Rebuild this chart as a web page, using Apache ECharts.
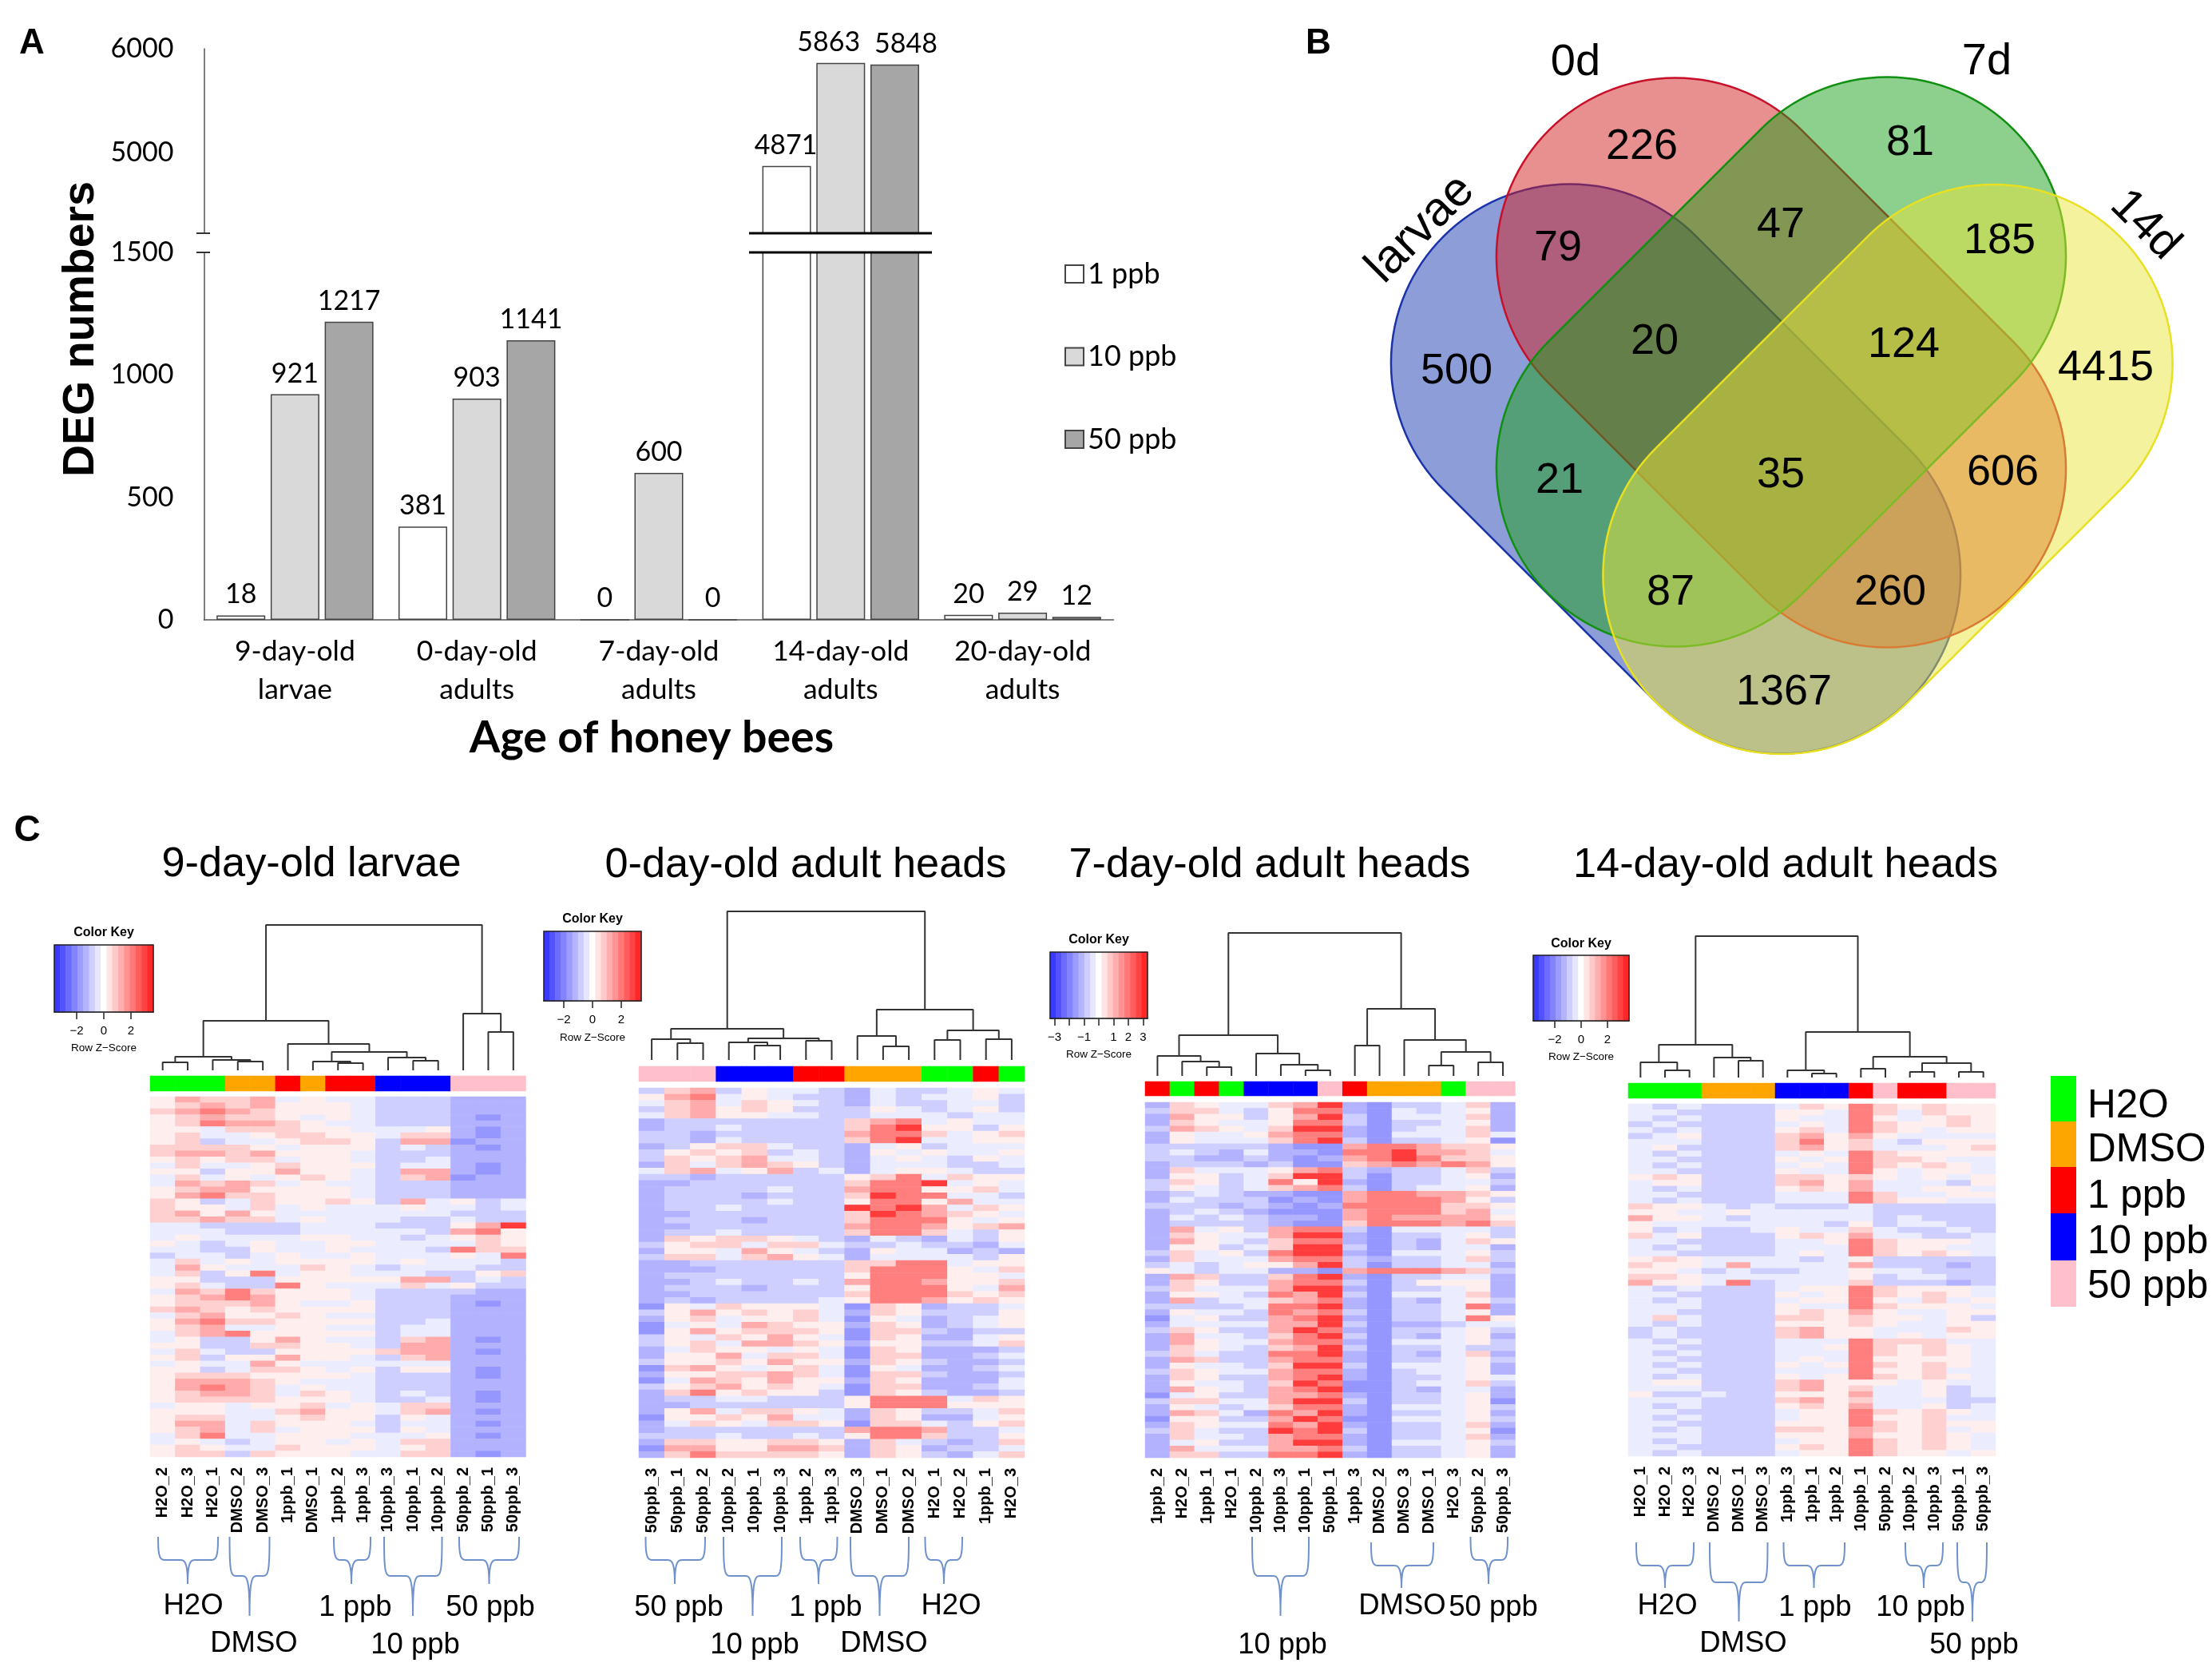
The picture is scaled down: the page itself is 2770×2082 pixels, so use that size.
<!DOCTYPE html>
<html><head><meta charset="utf-8">
<style>html,body{margin:0;padding:0;background:#fff}#c{width:2770px;height:2082px}</style>
<script src="https://cdn.jsdelivr.net/npm/echarts@6/dist/echarts.min.js"></script>
</head><body><div id="c"></div>
<script>
// ---------- Panel A data ----------
const ageCategories = ['9-day-old\nlarvae','0-day-old\nadults','7-day-old\nadults','14-day-old\nadults','20-day-old\nadults'];
const deg1ppb  = [18,381,0,4871,20];
const deg10ppb = [921,903,600,5863,29];
const deg50ppb = [1217,1141,0,5848,12];
// ---------- Panel B data ----------
const vennSets = ['larvae','0d','7d','14d'];
const vennCounts = [226,81,47,185,79,20,124,500,4415,21,35,606,87,260,1367];
// ---------- Panel C data ----------
const panelTitles = ['9-day-old larvae','0-day-old adult heads','7-day-old adult heads','14-day-old adult heads'];
const groupNames = ['H2O','DMSO','1 ppb','10 ppb','50 ppb'];
const groupColors = ['#00ff00','#ffa500','#ff0000','#0000ff','#ffc0cb'];
const samples0 = ['H2O_2','H2O_3','H2O_1','DMSO_2','DMSO_3','1ppb_1','DMSO_1','1ppb_2','1ppb_3','10ppb_3','10ppb_1','10ppb_2','50ppb_2','50ppb_1','50ppb_3'];
const samples1 = ['50ppb_3','50ppb_1','50ppb_2','10ppb_2','10ppb_1','10ppb_3','1ppb_2','1ppb_3','DMSO_3','DMSO_1','DMSO_2','H2O_1','H2O_2','1ppb_1','H2O_3'];
const samples2 = ['1ppb_2','H2O_2','1ppb_1','H2O_1','10ppb_2','10ppb_3','10ppb_1','50ppb_1','1ppb_3','DMSO_2','DMSO_3','DMSO_1','H2O_3','50ppb_2','50ppb_3'];
const samples3 = ['H2O_1','H2O_2','H2O_3','DMSO_2','DMSO_1','DMSO_3','1ppb_3','1ppb_1','1ppb_2','10ppb_1','50ppb_2','10ppb_2','10ppb_3','50ppb_1','50ppb_3'];
const annot0 = [0,0,0,1,1,2,1,2,2,3,3,3,4,4,4];
const annot1 = [4,4,4,3,3,3,2,2,1,1,1,0,0,2,0];
const annot2 = [2,0,2,0,3,3,3,4,2,1,1,1,0,4,4];
const annot3 = [0,0,0,1,1,1,3,3,3,2,4,2,2,4,4];
// colour-key steps (row z-score) and tick sets
const keySteps = [-3.2,-2.8,-2.4,-2,-1.6,-1.2,-0.8,-0.4,0,0.4,0.8,1.2,1.6,2,2.4,2.8,3.2];
const keyTicks0 = [-2,0,2];
const keyTicks2 = [-3,-2,-1,0,1,2,3];
const keyLabels2 = [-3,-1,1,2,3];
// dendrogram merges: [a, b, height]; a/b < 15 are leaves, otherwise earlier merges (15 + k)
const dendro0 = [[0,1,10],[3,4,11],[2,16,13],[15,17,17],[7,8,9],[6,19,11],[10,11,12],[9,21,16],[20,22,23],[5,23,33],[18,24,62],[13,14,48],[12,26,71],[25,27,182]];
const dendro1 = [[1,2,21],[0,15,26],[4,5,18],[3,17,22],[6,7,24],[18,19,27],[16,20,39],[9,10,17],[8,22,30],[11,12,25],[13,14,26],[24,25,37],[23,26,63],[21,27,186]];
const dendro2 = [[2,3,11],[1,15,18],[0,16,25],[6,7,7],[5,18,14],[4,19,28],[17,20,51],[8,9,38],[11,12,13],[13,14,17],[23,24,30],[10,25,45],[22,26,84],[21,27,179]];
const dendro3 = [[1,2,9],[0,15,19],[4,5,21],[3,17,25],[16,18,41],[7,8,5],[6,20,9],[9,10,11],[11,12,7],[13,14,7],[23,24,18],[22,25,26],[21,26,57],[19,27,177]];
// heat rows: one digit per sample, index into zLevels
const zLevels = [-2.5,-1.7,-1.25,-0.8,-0.3,0.25,0.7,1.25,1.9,2.9];
const heat0 = ["57667 45443 33222","56767 55543 33222","67876 55543 33222","56766 54543 33212","56877 65443 33222","55466 65544 45212","56445 66554 66212","56344 56653 77122","66665 45553 43212","67767 55543 33222","56566 45543 34222","46445 65553 44212","55355 75543 77212","46454 56543 67122","47676 45443 33222","56775 55543 33222","57866 55543 33222","65346 55653 74534","65546 45444 54434","67575 44444 44333","66766 45444 33433","44333 34443 33579","44433 34444 43785","45444 45544 34565","54345 44554 44465","44335 44544 43866","34434 54454 44548","46454 55554 54443","47544 46543 44433","46358 45544 43356","55333 55555 77343","56433 85444 64533","47686 55543 33322","56787 55543 33222","56667 54453 33212","67656 55553 33222","46755 65443 33222","57866 55553 34222","56744 55443 44222","46785 55553 44222","45335 75443 67212","55336 65543 77222","46433 55556 77212","56355 75543 67222","45447 54444 44222","55346 65453 55212","56665 55543 33212","57776 54443 33222","57876 45443 33222","56776 46543 43212","56666 55543 34212","45545 56454 66222","55544 67554 67212","56644 56553 54222","57746 55543 44212","56746 45553 54222","46844 55544 45212","45434 55454 66222","56544 65554 56222","56636 55544 66212"];
const heat1 = ["36735 44324 33454","57845 43324 34453","46746 54324 33443","36756 53335 43453","46755 44334 44344","23333 33367 84544","23343 33368 95535","33233 33378 86456","33243 33368 94455","23566 43324 53444","35656 34325 45445","36567 44324 54354","26467 65324 44334","46745 73424 55433","33233 33356 84655","22333 33368 89454","23333 43378 85564","23332 33369 88443","23333 43358 85744","23343 33398 97465","22333 33369 87654","23332 33368 88545","22333 33378 87567","23343 33368 86435","26566 54324 32435","35664 66433 43324","25547 54325 44232","36646 75424 44435","22333 33366 88455","22233 33368 88546","23333 33358 88554","22343 34378 87556","23332 33358 88547","22333 33368 88656","23233 33458 87565","15465 55416 52334","35756 56426 53335","25645 56415 42345","14547 65526 52345","15756 66516 63233","35465 75416 52245","35647 76525 53346","24655 45416 52223","25574 66416 62234","35565 75526 53223","16754 56415 42234","25566 76416 63223","14765 75526 52224","35675 65416 62234","26856 55316 53223","23344 33358 88465","22333 33358 88555","25746 65426 53346","15565 74426 52245","24654 66516 64356","23333 33378 87334","33343 34358 86335","26655 66526 43236","17755 77626 52334","26866 66526 53246"];
const heat2 = ["26544 67921 33462","36643 58821 43452","27553 57931 44462","26544 58831 33452","37654 69921 34462","25445 78821 44464","25444 68931 33451","33333 21178 87665","34324 22188 97764","33223 21278 98665","23332 31167 87875","26444 57832 33463","25534 69931 33452","36534 85921 33443","35434 67831 34452","23432 21178 87765","24333 12178 88753","33323 21288 88665","23432 11178 88674","24343 22178 77775","23333 21168 88786","27453 78831 44443","26544 79921 33453","27543 68821 32465","25534 69931 32442","36453 89921 44453","26444 78832 33463","34345 57931 33442","54344 22178 88763","27633 68921 33442","26533 78831 35552","36444 79921 33452","25543 87931 44462","27344 67821 32453","33334 88921 33482","25443 87831 33452","14533 78921 33485","24444 77931 22344","36533 79821 33453","27443 68931 32452","27544 78821 44453","26543 67931 33433","36433 88921 32462","27633 78821 33453","25443 69931 44452","36544 78821 34452","26533 78921 33454","25443 69811 34463","27543 78911 32442","14533 77821 33452","36644 79931 33451","25434 68821 44453","27642 87921 33452","15533 79811 44453","26544 87921 33462","36433 98931 33451","26443 78821 33462","24533 79921 44453","27444 77831 33452","26633 88921 33452"];
const heat3 = ["43433 34658 65655","44333 35548 64655","43433 35448 54565","34333 34548 65565","43433 35648 65455","34533 36757 54444","44433 36856 43555","45333 36756 44456","43433 34548 65555","44333 35458 66544","43433 34548 65654","44333 35448 54554","56533 36656 54545","45533 36757 44435","43433 35657 44554","44333 34448 64455","43433 34448 65544","65543 43334 33333","55445 44444 33333","75543 44444 34333","54444 44435 34433","53433 45446 43343","64533 35657 44334","44333 34458 65554","43433 34448 65544","44333 34548 65654","56544 44345 33333","65547 44447 33323","55434 33445 44333","66544 44445 34433","75548 34446 33323","43433 34558 65554","44333 35458 65654","43433 34558 54645","44433 35448 65554","44333 35657 54455","46433 36656 55453","43433 35556 54455","34333 36755 44465","34333 36755 45455","43433 34448 66644","44333 34458 65654","43433 34448 65654","44333 34548 55554","43433 35458 65654","44333 34448 55644","43433 35458 65654","45533 36755 54544","44433 36756 44534","53343 35557 44534","44433 36756 44433","43433 35657 44534","44333 34558 65654","43433 34558 55644","44333 35558 65655","43433 36657 65645","44433 35557 55654","43433 34558 65654","44333 35658 65654","43433 34558 65545"];

// ---------- layout (pixels) ----------
const SANS = '"Liberation Sans"', LATO = 'Lato';
const grid=[], xAxis=[], yAxis=[], series=[], gfx=[];
const invisible = {show:false};
function text(t,x,y,size,opt){ opt=opt||{};
  const dy = size>=30 ? 3 : 0;
  gfx.push({type:'text',x:x,y:y+dy,rotation:opt.rot||0,z:20,style:{text:t,fontSize:size,fontFamily:opt.font||SANS,fontWeight:opt.weight||'normal',fill:opt.fill||'#000',align:opt.align||'center',verticalAlign:'middle'}});
}
function hline(x1,x2,y,w,c){ gfx.push({type:'line',z:20,shape:{x1:x1,y1:y,x2:x2,y2:y},style:{stroke:c,lineWidth:w}}); }

// Panel A
const gLow = grid.length;
grid.push({left:255.5,width:1139,top:316,height:460});
xAxis.push({gridIndex:gLow,type:'category',data:ageCategories,axisTick:{show:false},
    axisLine:{lineStyle:{color:'#555',width:1.5}},
    axisLabel:{color:'#000',fontFamily:LATO,fontSize:35.5,lineHeight:48,margin:16,interval:0}});
yAxis.push({gridIndex:gLow,type:'value',min:0,max:1500,interval:500,splitLine:invisible,axisTick:invisible,
    axisLine:{show:true,lineStyle:{color:'#555',width:1.5}},
    axisLabel:{color:'#000',fontFamily:LATO,fontSize:34,margin:38,formatter:function(v){return String(v);}}});
const gUp = grid.length;
grid.push({left:255.5,width:1139,top:61,height:231});
xAxis.push({gridIndex:gUp,type:'category',data:ageCategories,show:false});
yAxis.push({gridIndex:gUp,type:'value',min:4223,max:6000,splitLine:invisible,axisTick:invisible,
    axisLine:{show:true,lineStyle:{color:'#555',width:1.5}},
    axisLabel:{color:'#000',fontFamily:LATO,fontSize:34,margin:38,customValues:[5000,6000],formatter:function(v){return String(v);}}});
[['1 ppb',deg1ppb,'#ffffff',-1],['10 ppb',deg10ppb,'#d9d9d9',-15],['50 ppb',deg50ppb,'#a6a6a6',14]].forEach(function(s){
  const base={name:s[0],type:'bar',barWidth:61,barGap:'11%',animation:false,clip:true,
    itemStyle:{color:s[2],borderColor:'#444',borderWidth:1.5}};
  const lab={show:true,position:'top',distance:9,color:'#000',fontFamily:LATO,fontSize:34};
  series.push(Object.assign({},base,{xAxisIndex:gLow,yAxisIndex:gLow,data:s[1],
    label:Object.assign({},lab,{formatter:function(p){return p.value>1500?'':String(p.value);}})}));
  series.push(Object.assign({},base,{xAxisIndex:gUp,yAxisIndex:gUp,
    data:s[1].map(function(v){return v>1500?{value:v,label:{offset:[s[3],0]}}:null;}),label:lab}));
});
hline(938,1167,292,3,'#000'); hline(938,1167,316,3,'#000');
hline(246,263,292,2,'#333'); hline(246,263,316,2,'#333');
text('A',40,52,44,{weight:'bold'});
text('DEG numbers',102,409,55.5,{weight:'bold',rot:Math.PI/2});
text('Age of honey bees',816,921,55.5,{weight:'bold',font:LATO});

// Panel B
text('B',1651,52,44,{weight:'bold'});
const vennShapes=[
 {cx:2098.5,cy:587,rot:-Math.PI/4,fill:'rgba(26,60,176,0.5)',stroke:'#1a33a8'},
 {cx:2230.5,cy:454,rot:-Math.PI/4,fill:'rgba(209,31,31,0.5)',stroke:'#c8102a'},
 {cx:2230.5,cy:453,rot:Math.PI/4,fill:'rgba(28,160,26,0.5)',stroke:'#109010'},
 {cx:2364,cy:587.5,rot:Math.PI/4,fill:'rgba(234,229,58,0.5)',stroke:'#e8e020'}];
vennShapes.forEach(function(v){
  gfx.push({type:'rect',x:v.cx,y:v.cy,rotation:v.rot,z:5,shape:{x:-411.5,y:-224,width:823,height:448,r:224},
    style:{fill:v.fill,stroke:v.stroke,lineWidth:2.5}});
});
const vennPos=[[2056,181],[2392,176],[2230,279],[2504,299],[1951,308],[2072,425],[2384,429],[1824,462],[2637,458],[1953,599],[2230,592],[2508,589],[2092,739],[2367,739],[2234,864]];
vennCounts.forEach(function(c,i){ text(String(c),vennPos[i][0],vennPos[i][1],54); });
text(vennSets[1],1973,76,56); text(vennSets[2],2488,75,56);
text(vennSets[0],1779,284,60,{rot:Math.PI/4});
text(vennSets[3],2686,279,58,{rot:-Math.PI/4});

// Panel C
text('C',34,1037,46,{weight:'bold'});
const panels=[
 {samples:samples0,annot:annot0,heat:heat0,dendro:dendro0,ticks:keyTicks0,labs:keyTicks0,range:3.65,
  title:[390,1080],heatL:188,heatR:658.5,heatT:1373,heatB:1824,annT:1347,annB:1366,leaf:1340,top:1158,
  key:[68,192,1183,1267],keyTitle:1168,keyName:1312,
  brackets:[[198,273,1924,1953,1983,235],[287.5,337.5,1924,1973,2023,312.5],[418,464,1924,1953,1983,440],[481,553.5,1924,1973,2023,517],[575,650,1924,1953,1983,612.5]],
  names:[[0,242,2008],[1,318,2055],[2,445,2010],[3,520,2057],[4,614,2010]]},
 {samples:samples1,annot:annot1,heat:heat1,dendro:dendro1,ticks:keyTicks0,labs:keyTicks0,range:3.4,
  title:[1009,1081],heatL:800,heatR:1283,heatT:1362,heatB:1825,annT:1335,annB:1354,leaf:1327,top:1141,
  key:[681,803,1166,1253],keyTitle:1151,keyName:1299,
  brackets:[[808.5,883,1924,1953,1983,845],[906,979,1924,1973,2023,942.5],[1002,1048.5,1924,1953,1983,1025],[1065,1138,1924,1973,2023,1101.5],[1158.5,1205,1924,1953,1983,1182]],
  names:[[4,850,2010],[3,945,2057],[2,1034,2010],[1,1107,2055],[0,1191,2008]]},
 {samples:samples2,annot:annot2,heat:heat2,dendro:dendro2,ticks:keyTicks2,labs:keyLabels2,range:3.3,
  title:[1590,1081],heatL:1434,heatR:1897.5,heatT:1380,heatB:1825,annT:1354,annB:1372,leaf:1347,top:1168,
  key:[1315,1437,1192,1275],keyTitle:1177,keyName:1320,
  brackets:[[1568,1639,1924,1973,2023,1603.5],[1717,1795,1931,1960,1988,1755],[1841.5,1888,1924,1953,1983,1864]],
  names:[[3,1606,2057],[1,1756,2008],[4,1870,2010]]},
 {samples:samples3,annot:annot3,heat:heat3,dendro:dendro3,ticks:keyTicks0,labs:keyTicks0,range:3.65,
  title:[2236,1081],heatL:2039,heatR:2499,heatT:1382,heatB:1823,annT:1356,annB:1375,leaf:1349,top:1172,
  key:[1920,2040,1196,1278],keyTitle:1182,keyName:1323,
  brackets:[[2049,2121,1931,1960,1988,2085],[2141,2213.5,1931,1981,2030,2177.5],[2233.5,2310,1931,1960,1988,2271.5],[2386,2433,1931,1960,1988,2409],[2451,2488,1931,1981,2030,2470]],
  names:[[0,2088,2008],[1,2183,2055],[2,2273,2010],[3,2405,2010],[4,2472,2057]]}];

const heatSeriesIdx=[];
function cubic(p0,p1,p2,p3,out){ for(let i=1;i<=10;i++){const t=i/10,u=1-t;
  out.push([u*u*u*p0[0]+3*u*u*t*p1[0]+3*u*t*t*p2[0]+t*t*t*p3[0],u*u*u*p0[1]+3*u*u*t*p1[1]+3*u*t*t*p2[1]+t*t*t*p3[1]]);} }
function bracket(b){ const L=b[0],R=b[1],T=b[2],M=b[3],B=b[4],X=b[5]; const pts=[[L,T]];
  cubic([L,T],[L,M-8],[L+1,M],[L+8,M],pts); pts.push([X-9,M]);
  cubic([X-9,M],[X-3,M],[X,M+5],[X,B],pts);
  cubic([X,B],[X,M+5],[X+3,M],[X+9,M],pts); pts.push([R-8,M]);
  cubic([R-8,M],[R-1,M],[R,M-8],[R,T],pts);
  gfx.push({type:'polyline',z:20,shape:{points:pts},style:{fill:null,stroke:'#7092cc',lineWidth:2}}); }

panels.forEach(function(p,pi){
  const W=p.heatR-p.heatL, idx=p.samples.map(function(_,i){return i;});
  text(panelTitles[pi],p.title[0],p.title[1],52.3);
  // colour key
  const k=p.key, gk=grid.length, kxc=xAxis.length, kyc=yAxis.length;
  grid.push({left:k[0],width:k[1]-k[0],top:k[2],height:k[3]-k[2],show:true,borderColor:'#222',borderWidth:1.5,backgroundColor:'transparent',z:10});
  xAxis.push({gridIndex:gk,type:'category',data:keySteps.map(String),show:false});
  yAxis.push({gridIndex:gk,type:'category',data:['k'],show:false});
  xAxis.push({gridIndex:gk,type:'value',position:'bottom',min:-p.range,max:p.range,splitLine:invisible,
    axisLine:{show:true,lineStyle:{color:'#222',width:1.5}},axisTick:{show:true,length:9,lineStyle:{color:'#222',width:1.5},customValues:p.ticks},
    axisLabel:{show:true,color:'#000',fontFamily:SANS,fontSize:15,margin:16,customValues:p.labs,
      formatter:function(v){return String(v).replace('-','\u2212');}}});
  heatSeriesIdx.push(series.length);
  series.push({type:'heatmap',xAxisIndex:kxc,yAxisIndex:kyc,animation:false,silent:true,
    data:keySteps.map(function(z,i){return [i,0,z];})});
  text('Color Key',(k[0]+k[1])/2,p.keyTitle,16,{weight:'bold'});
  text('Row Z\u2212Score',(k[0]+k[1])/2,p.keyName,13.5);
  // dendrogram
  const gd=grid.length, dx=xAxis.length, dy=yAxis.length;
  grid.push({left:p.heatL,width:W,top:p.top,height:p.leaf-p.top});
  xAxis.push({gridIndex:gd,type:'value',min:0,max:15,show:false});
  yAxis.push({gridIndex:gd,type:'value',min:0,max:p.leaf-p.top,show:false});
  const node=idx.map(function(i){return [i+0.5,0];}), seg=[];
  p.dendro.forEach(function(m){const a=node[m[0]],b=node[m[1]],h=m[2];
    seg.push([a[0],a[1]],[a[0],h],[b[0],h],[b[0],b[1]],['-','-']);
    node.push([(a[0]+b[0])/2,h]);});
  series.push({type:'line',xAxisIndex:dx,yAxisIndex:dy,data:seg,showSymbol:false,clip:false,animation:false,silent:true,
    connectNulls:false,lineStyle:{color:'#333',width:2}});
  // annotation bar
  const ga=grid.length, ax=xAxis.length, ay=yAxis.length;
  grid.push({left:p.heatL,width:W,top:p.annT,height:p.annB-p.annT});
  xAxis.push({gridIndex:ga,type:'category',data:p.samples,show:false});
  yAxis.push({gridIndex:ga,type:'category',data:['a'],show:false});
  series.push({type:'heatmap',xAxisIndex:ax,yAxisIndex:ay,animation:false,silent:true,
    data:p.annot.map(function(gr,i){return {value:[i,0,gr],itemStyle:{color:groupColors[gr]}};})});
  // heat body
  const gh=grid.length, hx=xAxis.length, hy=yAxis.length;
  const rows=p.heat.map(function(r){return r.replace(/ /g,'').split('').map(function(d){return zLevels[+d];});});
  grid.push({left:p.heatL,width:W,top:p.heatT,height:p.heatB-p.heatT});
  xAxis.push({gridIndex:gh,type:'category',data:p.samples,axisLine:invisible,axisTick:invisible,
    axisLabel:{interval:0,rotate:90,fontFamily:SANS,fontSize:20,fontWeight:'bold',color:'#000',margin:13}});
  yAxis.push({gridIndex:gh,type:'category',inverse:true,data:rows.map(function(_,i){return String(i);}),show:false});
  const cells=[]; rows.forEach(function(r,ri){r.forEach(function(z,ci){cells.push([ci,ri,z]);});});
  heatSeriesIdx.push(series.length);
  series.push({type:'heatmap',xAxisIndex:hx,yAxisIndex:hy,animation:false,silent:true,progressive:0,data:cells});
  // brackets and group names
  p.brackets.forEach(bracket);
  p.names.forEach(function(n){ text(groupNames[n[0]],n[1],n[2],36.5); });
});

// Group legend
const legendY=[1347,1404,1461,1519,1578,1636], legendTextY=[1382,1437,1495,1552,1608];
groupNames.forEach(function(n,i){
  gfx.push({type:'rect',z:20,shape:{x:2568,y:legendY[i],width:32,height:legendY[i+1]-legendY[i]},style:{fill:groupColors[i]}});
  text(n,2614,legendTextY[i],49.5,{align:'left'});
});

const chart=echarts.init(document.getElementById('c'));
chart.setOption({
  backgroundColor:'#fff',animation:false,
  legend:{data:['1 ppb','10 ppb','50 ppb'],orient:'vertical',left:1328,top:320,itemWidth:23,itemHeight:22,itemGap:67.5,selectedMode:false,icon:'rect',
    textStyle:{color:'#000',fontFamily:LATO,fontSize:36}},
  visualMap:{show:false,type:'continuous',min:-3.3,max:3.3,dimension:2,seriesIndex:heatSeriesIdx,inRange:{color:['#3333ff','#ffffff','#ff2020']}},
  grid:grid,xAxis:xAxis,yAxis:yAxis,series:series,
  graphic:{elements:gfx}
});
</script></body></html>
